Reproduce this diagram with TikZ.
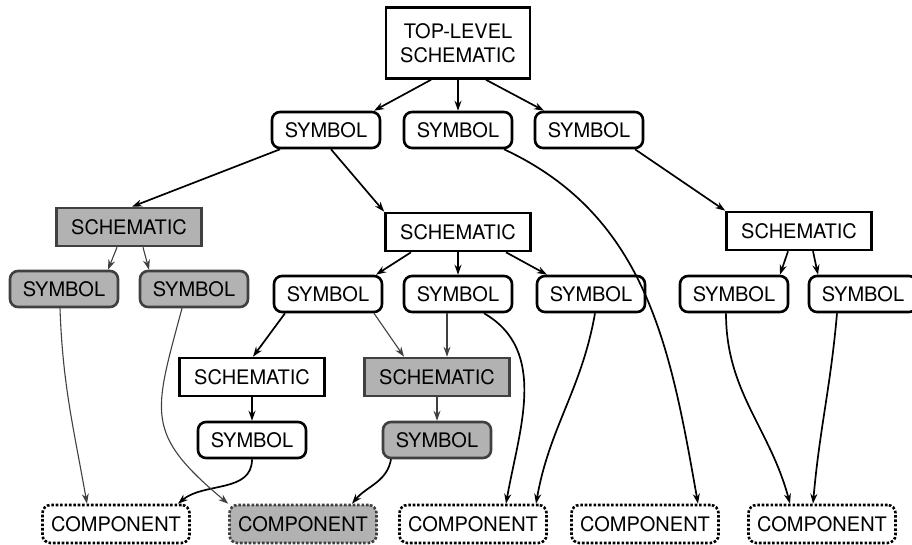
\documentclass[tikz,border=0pt]{standalone}
\usepackage{fontspec}
\setmainfont{TeX Gyre Heros}
\usepackage{tikz}
\usetikzlibrary{arrows.meta}
\tikzset{
>={Stealth[length=10pt,width=7pt]}, % arrow heads
x=1pt, y=1pt, % one unit is one point
every node/.style={font=\fontsize{20}{24}\selectfont, line width=2.6pt, inner sep=0pt},
sch/.style={draw, rectangle, minimum width=145pt, minimum height=38pt}, % schematic boxes
sym/.style={draw, rounded corners=8pt, minimum width=108pt, minimum height=36pt}, % symbol boxes
comp/.style={draw, rounded corners=8pt, dash pattern=on 2.6pt off 1.8pt, minimum width=147pt, minimum height=38pt}, % component boxes
dark/.style={fill=gray!60, draw=black!75}, % the shaded copies
link/.style={line width=1.7pt, every edge/.append style={->}}, % normal arrows
faint/.style={line width=1.1pt, black!75, every edge/.append style={->}}, % arrows to or from shaded boxes
}

\begin{document}
\begin{tikzpicture}
\useasboundingbox (0,0) rectangle (912,544);

\node[sch, minimum width=144pt, minimum height=71pt, align=center] (top) at (458,501) {TOP-LEVEL\\SCHEMATIC};

\node[sym] (s1a) at (326,414) {SYMBOL};
\node[sym] (s1b) at (458,414) {SYMBOL};
\node[sym] (s1c) at (589,414) {SYMBOL};

\node[sch, dark] (shA) at (129,317) {SCHEMATIC};
\node[sch] (shB) at (458,312) {SCHEMATIC};
\node[sch] (shC) at (799,313) {SCHEMATIC};

\node[sym, dark] (gy1) at (64,255) {SYMBOL};
\node[sym, dark] (gy2) at (194,255) {SYMBOL};
\node[sym] (s3a) at (328,250) {SYMBOL};
\node[sym] (s3b) at (458,250) {SYMBOL};
\node[sym] (s3c) at (591,250) {SYMBOL};
\node[sym] (s3d) at (734,250) {SYMBOL};
\node[sym] (s3e) at (863,250) {SYMBOL};

\node[sch] (shD) at (252,167) {SCHEMATIC};
\node[sch, dark] (shE) at (437,167) {SCHEMATIC};

\node[sym] (s5a) at (252,104) {SYMBOL};
\node[sym, dark] (s5b) at (437,104) {SYMBOL};

\node[comp] (c1) at (116,20) {COMPONENT};
\node[comp, dark] (c2) at (303,20) {COMPONENT};
\node[comp] (c3) at (473,20) {COMPONENT};
\node[comp] (c4) at (645,20) {COMPONENT};
\node[comp] (c5) at (822,20) {COMPONENT};

\draw[link]
([xshift=-27pt]top.south) edge ([xshift=48pt]s1a.north)
(top.south) edge (s1b.north)
([xshift=28pt]top.south) edge ([xshift=-45pt]s1c.north)
([xshift=-46pt]s1a.south) edge ([xshift=3pt]shA.north)
([xshift=5pt]s1a.south) edge (shB.north west)
([xshift=46pt]s1b.south) edge[out=-25, in=100] ([xshift=53pt]c4.north)
([xshift=46pt]s1c.south) edge (shC.north west)
([xshift=-47pt]shB.south) edge ([xshift=48pt]s3a.north)
(shB.south) edge (s3b.north)
([xshift=48pt]shB.south) edge ([xshift=-44pt]s3c.north)
([xshift=-11pt]shC.south) edge ([xshift=46pt]s3d.north)
([xshift=14pt]shC.south) edge ([xshift=-45pt]s3e.north)
([xshift=-43pt]s3a.south) edge ([xshift=1pt]shD.north)
([xshift=26pt]s3b.south) edge[out=-30, in=80] ([xshift=33pt]c3.north)
([xshift=4pt]s3c.south) edge[out=-100, in=80] ([xshift=63pt]c3.north)
([xshift=-8pt]s3d.south) edge[out=-90, in=105] ([xshift=-32pt]c5.north)
([xshift=-26pt]s3e.south) edge[out=-95, in=85] ([xshift=-9pt]c5.north)
(shD.south) edge (s5a.north)
(s5a.south) edge[out=-90, in=40] ([xshift=62pt]c1.north)
([xshift=-46pt]s5b.south) edge[out=-100, in=50] ([xshift=49pt]c2.north);

\draw[faint]
([xshift=-12pt]shA.south) edge ([xshift=44pt]gy1.north)
([xshift=14pt]shA.south) edge ([xshift=-45pt]gy2.north)
([xshift=-4pt]gy1.south) edge[out=-88, in=100] ([xshift=-29pt]c1.north)
([xshift=-12pt]gy2.south) edge[out=-105, in=140, looseness=1.4] (c2.north west)
([xshift=46pt]s3a.south) edge ([xshift=-33pt]shE.north)
([xshift=-11pt]s3b.south) edge ([xshift=10pt]shE.north)
(shE.south) edge (s5b.north);

\end{tikzpicture}
\end{document}
